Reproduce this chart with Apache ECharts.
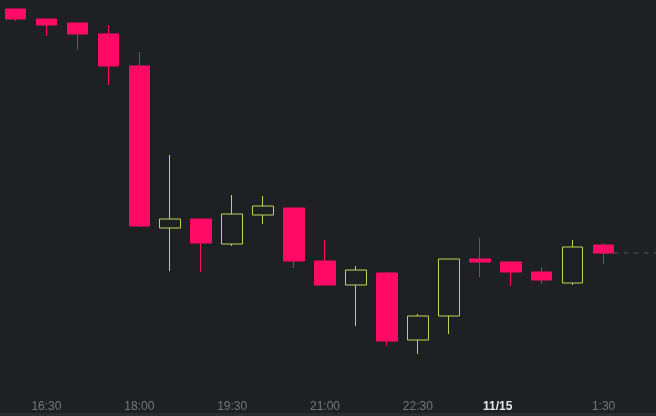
<!DOCTYPE html>
<html>
<head>
<meta charset="utf-8">
<script src="https://cdn.jsdelivr.net/npm/echarts@6/dist/echarts.min.js"></script>
<style>
html,body{margin:0;padding:0;background:#1f2024;overflow:hidden;width:656px;height:416px;}
#c{width:690px;height:416px;}
</style>
</head>
<body>
<div id="c"></div>
<script>
var times = ['16:00','16:30','17:00','17:30','18:00','18:30','19:00','19:30','20:00','20:30','21:00','21:30','22:00','22:30','23:00','23:30','0:00','0:30','1:00','1:30','2:00','2:30'];
var tickLabels = {1:'16:30',4:'18:00',7:'19:30',10:'21:00',13:'22:30',16:'11/15',19:'1:30'};
var openP  = [377,367,363,352,320,158,167,142,171,178,125,101,113,46,70,127,124,114,103,141];
var closeP = [367,361,352,320,160,167,143,172,180,125,101,116,45,70,127,124,114,106,139,133];
var lowP   = [365,350,336,301,159,115,114,140,162,118,101,60,40,32,52,109,100,102,101,122];
var highP  = [377,367,363,361,334,231,167,191,190,178,146,120,114,72,127,148,124,119,146,143];

var candles = openP.map(function(o,i){return [o, closeP[i], lowP[i], highP[i]];});
var lastClose = closeP[closeP.length-1];
var lastLine = times.map(function(t,i){return i >= closeP.length-1 ? lastClose : null;});

var RED = '#ff0a65', GREEN = '#bcd65a';
var chart = echarts.init(document.getElementById('c'));
chart.setOption({
  backgroundColor:'#1f2024',
  animation:false,
  grid:{left:-1, width:682, top:0, height:386},
  xAxis:{
    type:'category', data:times, boundaryGap:true,
    axisLine:{show:false}, axisTick:{show:false}, splitLine:{show:false},
    axisLabel:{
      interval:0, margin:15, fontSize:12, color:'#777',
      fontFamily:'Liberation Sans, Arial, sans-serif',
      formatter:function(v,i){
        var l = tickLabels[i];
        if(!l) return '';
        if(l.indexOf('/')>=0) return '{d|'+l+'}';
        return l;
      },
      rich:{d:{color:'#e6e6e6', fontWeight:'bold', fontSize:12, padding:[0,26,0,0], fontFamily:'Liberation Sans, Arial, sans-serif'}}
    }
  },
  yAxis:{type:'value', min:0, max:386, show:false, splitLine:{show:false}},
  graphic:[{type:'rect', left:0, top:413, shape:{width:690,height:3}, style:{fill:'#2a2b2f'}, silent:true}],
  series:[
    {
      type:'line', data:lastLine, symbol:'none', z:1,
      lineStyle:{color:'#555', width:1, type:[5,5]}
    },
    {
      type:'candlestick', data:candles, barWidth:21, z:3,
      itemStyle:{
        color:'#1f2024', color0:RED,
        borderColor:GREEN, borderColor0:RED, borderWidth:1
      }
    }
  ]
});
</script>
</body>
</html>
